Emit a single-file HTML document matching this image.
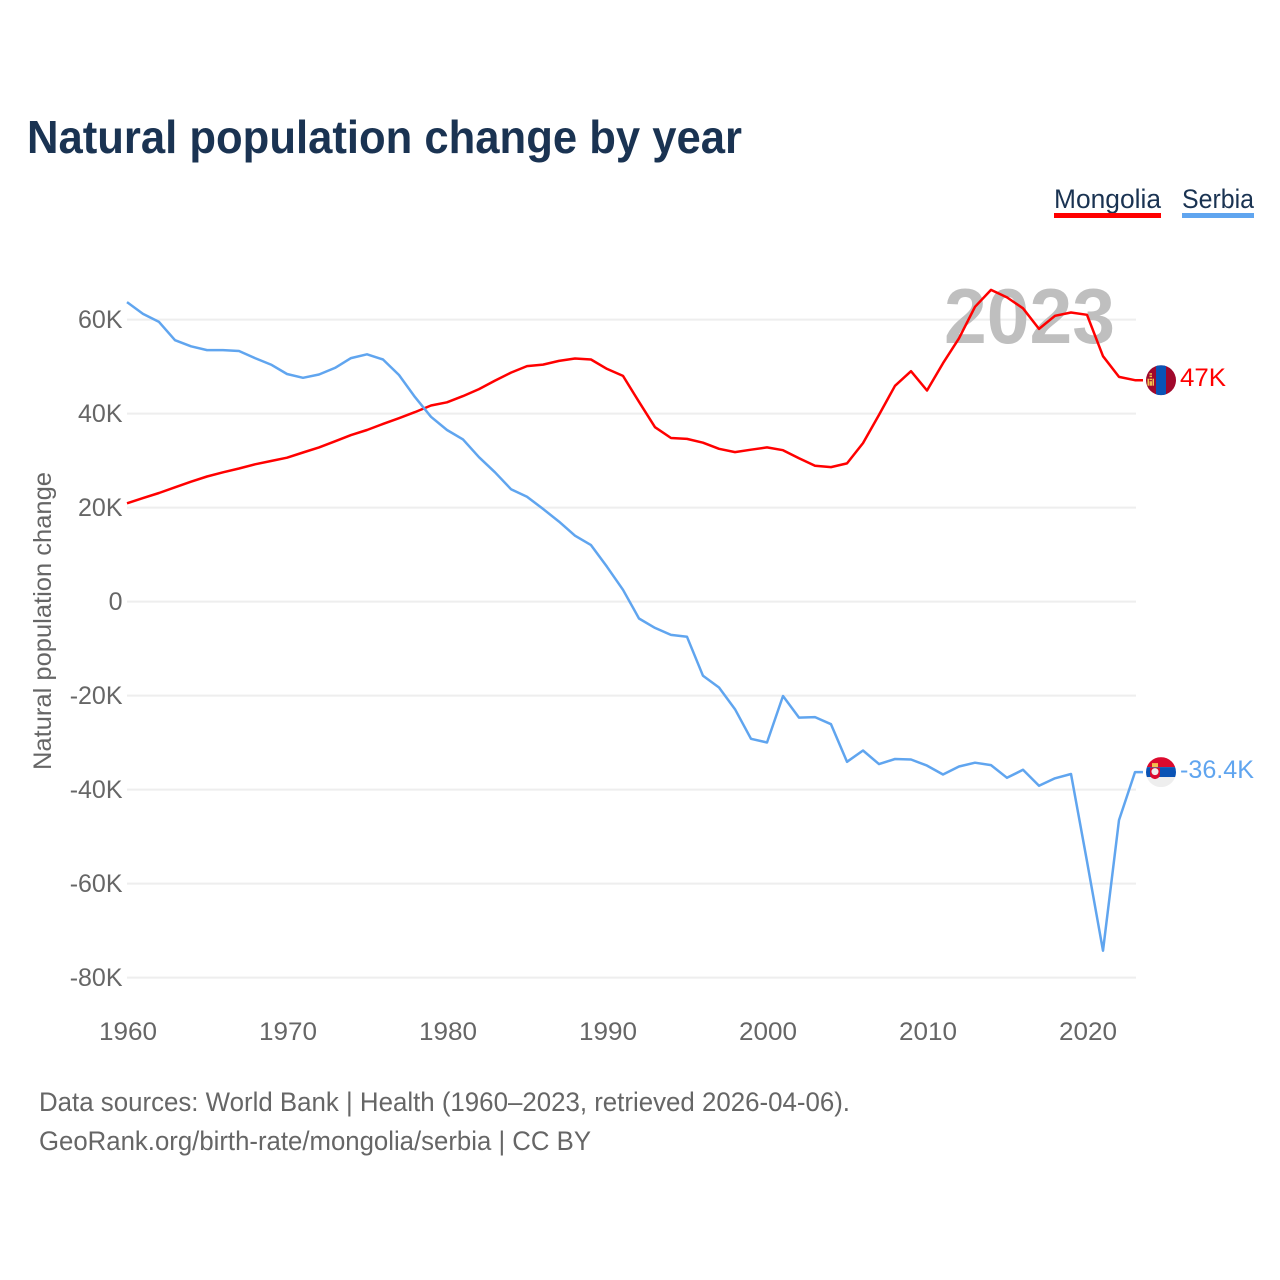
<!DOCTYPE html>
<html lang="en">
<head>
<meta charset="utf-8">
<title>Natural population change by year</title>
<style>
html,body{margin:0;padding:0;background:#fff;width:1280px;height:1280px;overflow:hidden}
svg{display:block;font-family:"Liberation Sans",sans-serif}
</style>
</head>
<body>
<svg id="chart" xmlns="http://www.w3.org/2000/svg" width="1280" height="1280" viewBox="0 0 1280 1280">
  <defs>
    <clipPath id="flag-clip-mongolia"><circle cx="0" cy="0" r="15"/></clipPath>
    <clipPath id="flag-clip-serbia"><circle cx="0" cy="0" r="15"/></clipPath>
  </defs>
  <rect width="1280" height="1280" fill="#fff"/>
  <text x="27" y="153" font-size="46" font-weight="700" fill="#1a3352" textLength="715" lengthAdjust="spacingAndGlyphs">Natural population change by year</text>

  <g>
    <text x="1054" y="208" font-size="27" fill="#1a3352" textLength="107" lengthAdjust="spacingAndGlyphs">Mongolia</text>
    <rect x="1054" y="213" width="107" height="5" fill="#ff0000"/>
  </g>
  <g>
    <text x="1182" y="208" font-size="27" fill="#1a3352" textLength="72" lengthAdjust="spacingAndGlyphs">Serbia</text>
    <rect x="1182" y="213" width="72" height="5" fill="#60a5ef"/>
  </g>

  <g id="grid"></g>
  <g id="y-ticks"></g>
  <g id="x-ticks"></g>
  <text transform="translate(51 621) rotate(-90)" text-anchor="middle" font-size="25" fill="#666" textLength="298" lengthAdjust="spacingAndGlyphs">Natural population change</text>

  <text x="944" y="343" font-size="78" font-weight="700" fill="#bfbfbf" textLength="171" lengthAdjust="spacingAndGlyphs">2023</text>

  <g id="series"></g>

  <g id="flag-mongolia">
    <g clip-path="url(#flag-clip-mongolia)">
      <rect x="-15" y="-15" width="30" height="30" fill="#a0082c"/>
      <rect x="-5" y="-15" width="10" height="30" fill="#0a53b5"/>
      <rect x="-11.5" y="-7" width="2.5" height="1.5" fill="#f2c14e"/>
      <rect x="-11.5" y="-4.5" width="2.5" height="1.5" fill="#f2c14e"/>
      <rect x="-13.5" y="-1.5" width="1.5" height="7" fill="#f2c14e"/>
      <rect x="-8.5" y="-1.5" width="1.5" height="7" fill="#f2c14e"/>
      <rect x="-11.5" y="-1.5" width="2.5" height="1.5" fill="#f2c14e"/>
      <rect x="-11.5" y="1" width="2.5" height="4.5" fill="#f2c14e"/>
    </g>
  </g>
  <g id="flag-serbia">
    <g clip-path="url(#flag-clip-serbia)">
      <rect x="-15" y="-15" width="30" height="10" fill="#dc0a2e"/>
      <rect x="-15" y="-5" width="30" height="10" fill="#0a53b5"/>
      <rect x="-15" y="5" width="30" height="10" fill="#eeeeee"/>
      <path d="M-11-4.5h10v7q0 3.5-5 4.5q-5-1-5-4.5z" fill="#dc0a2e"/>
      <rect x="-9" y="-9" width="6" height="4" fill="#f2c14e"/>
      <circle cx="-6" cy="-0.5" r="3.5" fill="#eeeeee"/>
    </g>
  </g>
  <text id="label-mongolia" x="1180" font-size="25" fill="#ff0000" textLength="46" lengthAdjust="spacingAndGlyphs">47K</text>
  <text id="label-serbia" x="1180" font-size="25" fill="#60a5ef" textLength="74" lengthAdjust="spacingAndGlyphs">-36.4K</text>

  <text x="39" y="1111" font-size="27" fill="#666" textLength="811" lengthAdjust="spacingAndGlyphs">Data sources: World Bank | Health (1960–2023, retrieved 2026-04-06).</text>
  <text x="39" y="1150" font-size="27" fill="#666" textLength="552" lengthAdjust="spacingAndGlyphs">GeoRank.org/birth-rate/mongolia/serbia | CC BY</text>
</svg>
<script>
const startYear = 1960;
const mongolia = [21.0,22.1,23.2,24.4,25.6,26.7,27.6,28.4,29.3,30.0,30.7,31.8,32.9,34.2,35.5,36.6,37.9,39.1,40.4,41.8,42.5,43.8,45.3,47.1,48.8,50.2,50.5,51.3,51.8,51.6,49.6,48.1,42.6,37.2,34.9,34.7,33.9,32.6,31.9,32.4,32.9,32.3,30.6,29.0,28.7,29.5,33.8,39.8,46.0,49.1,45.0,50.8,56.1,62.8,66.4,64.8,62.5,58.1,60.9,61.6,61.1,52.3,47.9,47.2];
const serbia = [63.8,61.3,59.6,55.7,54.4,53.6,53.6,53.4,51.9,50.5,48.5,47.7,48.4,49.8,51.9,52.7,51.6,48.3,43.6,39.4,36.6,34.6,30.8,27.6,24.0,22.4,19.8,17.1,14.1,12.1,7.5,2.6,-3.5,-5.5,-7.0,-7.4,-15.7,-18.2,-22.8,-29.1,-29.9,-20.0,-24.6,-24.5,-26.0,-34.0,-31.6,-34.5,-33.4,-33.5,-34.8,-36.7,-35.0,-34.2,-34.7,-37.4,-35.7,-39.1,-37.5,-36.6,-55.2,-74.2,-46.4,-36.2];
const yTickValues = [60,40,20,0,-20,-40,-60,-80];
const yTickLabels = ['60K','40K','20K','0','-20K','-40K','-60K','-80K'];
const xTickYears = [1960,1970,1980,1990,2000,2010,2020];

const NS = 'http://www.w3.org/2000/svg';
function xScale(year){ return 127 + (year - 1960) * 16; }
function yScale(v){ return 602 - v * 4.7; }
function make(tag, attrs, parent){
  const el = document.createElementNS(NS, tag);
  for (const k in attrs) el.setAttribute(k, attrs[k]);
  parent.appendChild(el);
  return el;
}

const gridGroup = document.getElementById('grid');
const yTickGroup = document.getElementById('y-ticks');
yTickValues.forEach(function(v, i){
  const gy = yScale(v) - 0.4;
  const line = make('line', {x1:127, x2:1136, y1:gy, y2:gy, stroke:'#eeeeee', 'stroke-width':2}, gridGroup);
  
  
  const t = make('text', {x:122.5, y:gy+8.5, 'text-anchor':'end', 'font-size':25, fill:'#666'}, yTickGroup);
  
  
  t.textContent = yTickLabels[i];
});

const xTickGroup = document.getElementById('x-ticks');
xTickYears.forEach(function(yr){
  const t = make('text', {x:xScale(yr)+1, y:1040, 'text-anchor':'middle', 'font-size':25, fill:'#666', textLength:58, lengthAdjust:'spacingAndGlyphs'}, xTickGroup);
  
  
  t.textContent = String(yr);
});

const seriesGroup = document.getElementById('series');
function drawSeries(values, color, name){
  const pts = values.map(function(v, i){ return xScale(startYear + i).toFixed(1) + ',' + yScale(v).toFixed(1); });
  const lastX = xScale(startYear + values.length - 1);
  const lastY = yScale(values[values.length - 1]);
  pts.push((lastX + 8).toFixed(1) + ',' + lastY.toFixed(1));
  const p = make('polyline', {points:pts.join(' '), fill:'none', stroke:color, 'stroke-width':2.5, 'stroke-linejoin':'round'}, seriesGroup);
  
  
}
drawSeries(mongolia, '#ff0000', 'line-mongolia');
drawSeries(serbia, '#60a5ef', 'line-serbia');

function placeEnd(values, flagId, labelId){
  const y = yScale(values[values.length - 1]);
  document.getElementById(flagId).setAttribute('transform', 'translate(1161 ' + y.toFixed(1) + ')');
  document.getElementById(labelId).setAttribute('y', (y + 6).toFixed(1));
}
placeEnd(mongolia, 'flag-mongolia', 'label-mongolia');
placeEnd(serbia, 'flag-serbia', 'label-serbia');
</script>
</body>
</html>
